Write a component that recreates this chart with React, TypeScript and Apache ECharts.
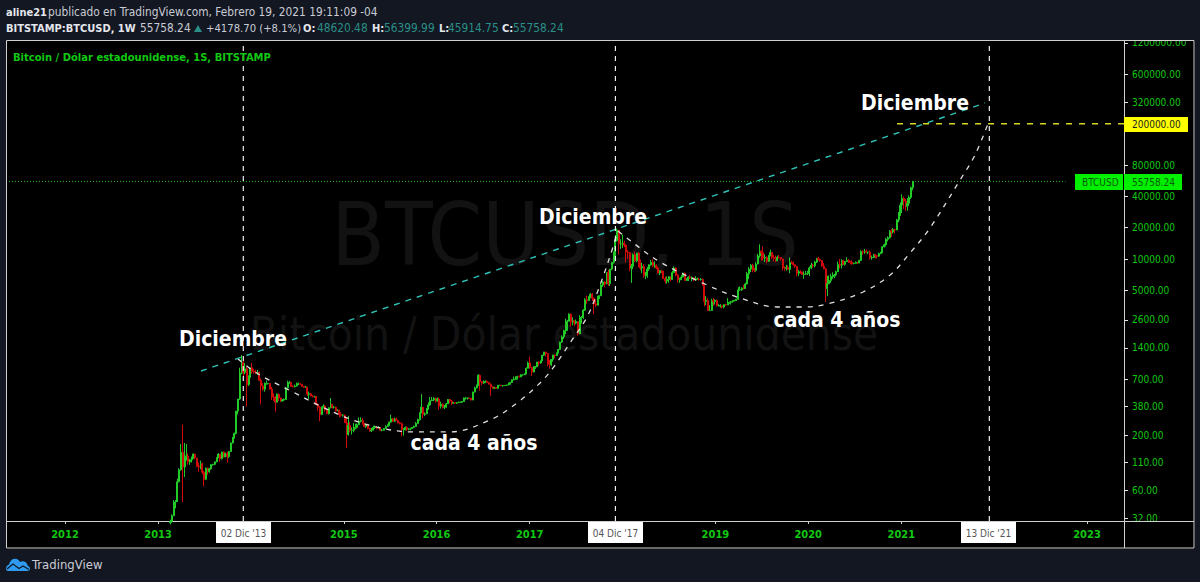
import React, { useEffect, useRef } from "react";
import * as echarts from "echarts";

const FIRST_WEEK = Date.UTC(2013, 1, 18);
const WEEK_MS = 7 * 864e5;

const close2013 = [30,34,46,47,72,94,138,100,127,127,112,117,122,133,122,101,100,107,89,76,97,90,96,105,106,112,122,133,120,139,125,135,126,141,170,190,210,345,450,800,1010,810,880,620,730,900];
const high2013 = [31,35,48,48,77,97,166,255,170,166,135,120,126,135,133,122,110,115,110,92,99,99,98,106,107,113,124,136,133,140,141,137,140,142,172,194,214,345,450,900,1190,1160,1000,920,760,900];
const low2013 = [28,29,34,40,46,71,92,46,80,115,105,105,110,120,118,100,90,95,85,65,75,84,88,94,103,104,111,122,112,118,123,124,110,122,140,168,188,205,320,440,780,700,780,380,600,720];

const close2014 = [830,815,800,810,680,600,560,630,635,635,560,470,450,420,500,460,430,440,445,575,650,650,595,590,600,630,630,625,595,585,585,500,505,480,475,475,400,375,320,375,385,355,325,370,400,375,375,345,350,320,315,315];
const high2014 = [1000,880,860,860,825,710,640,650,680,640,640,590,510,480,510,510,465,450,455,590,675,670,660,610,620,650,650,640,625,600,600,590,530,515,490,485,480,410,385,380,400,395,360,375,460,405,385,380,360,355,335,320];
const low2014 = [790,790,780,770,670,400,540,530,620,620,555,440,430,340,415,430,420,425,430,440,570,630,590,585,585,595,615,615,590,575,580,480,450,480,465,465,390,345,275,345,370,340,320,320,370,365,365,340,345,300,305,305];

const close2015 = [265,205,250,225,225,235,240,255,275,280,260,245,255,235,222,225,240,240,235,240,225,225,235,245,250,270,290,275,290,280,265,260,228,228,240,230,232,235,240,245,262,285,330,375,320,325,360,395,435,440,455,430];
const high2015 = [318,295,310,270,240,265,260,262,300,300,295,265,260,260,238,238,250,250,245,247,240,232,237,252,258,272,318,295,298,298,285,270,268,236,245,245,237,238,242,250,270,292,335,502,340,335,368,418,470,470,470,465];
const low2015 = [265,152,200,215,205,215,230,234,255,268,255,240,238,230,218,217,225,232,230,235,222,220,225,232,245,250,266,270,270,280,262,257,197,200,225,222,225,225,233,235,245,260,278,330,295,308,322,355,385,430,430,415];

const close2016 = [450,385,400,375,375,405,445,430,410,415,410,416,420,420,425,460,460,460,458,440,525,575,605,760,660,640,650,665,650,625,590,570,580,570,610,610,605,605,610,615,640,650,690,700,700,740,735,770,770,785,890,1000];
const high2016 = [465,465,425,410,395,412,448,450,440,420,418,420,425,425,430,465,470,465,460,460,530,590,620,780,775,670,680,680,680,660,635,600,590,585,615,615,612,610,612,618,645,655,695,740,745,755,760,780,780,795,905,1030];
const low2016 = [425,355,365,365,360,370,405,410,395,405,405,405,412,415,418,425,445,445,450,435,440,520,570,605,540,610,630,640,640,620,480,565,565,565,565,605,600,590,600,605,610,620,640,680,690,695,725,730,755,770,785,890];

const close2017 = [900,820,920,920,1020,1000,1050,1190,1270,1230,970,960,1080,1190,1180,1250,1350,1590,1780,2050,2050,2520,2950,2500,2550,2420,2500,1900,2750,2750,3220,4050,4000,4340,4600,4200,3700,3600,4400,4430,5630,6000,5750,7400,5800,8000,9300,11300,15000,19000,14000,14000];
const high2017 = [1150,920,935,930,1025,1030,1055,1190,1280,1290,1245,1070,1090,1200,1210,1260,1360,1600,1840,2090,2670,2600,3000,2980,2750,2560,2620,2420,2880,2830,3300,4200,4450,4400,4700,4700,4250,4100,4400,4460,5860,6170,6150,7450,7880,8000,9300,11800,17000,19660,17500,15500];
const low2017 = [880,750,810,880,910,940,980,1040,1170,1150,930,880,935,1030,1110,1170,1240,1330,1560,1700,1890,2050,2620,2240,2300,2280,2350,1830,1900,2400,2650,3170,3700,3950,4200,3950,2950,3450,3580,4120,4400,5400,5350,5750,5500,5500,7800,9000,10700,14700,11100,12500];

const close2018 = [14200,13600,11600,11500,8200,8500,11000,9600,11400,9300,8200,8500,6900,7000,8000,8800,9300,8600,8700,8200,7350,7700,7500,6500,6150,6350,6750,6350,7400,8200,7000,6300,6400,6700,7300,6200,6500,6700,6600,6600,6300,6400,6400,6350,6350,5600,3900,4000,3200,3200,4000,3900,4000];
const high2018 = [17200,15000,14000,12200,11700,8950,11300,11800,11400,11700,9900,9200,8950,7500,8400,8900,9800,9950,9500,8900,8500,7800,7800,7700,6800,6800,6850,6800,7700,8500,8250,7150,6600,7000,7400,7400,6550,6800,7050,6800,6700,6850,6600,6600,6550,6500,5650,4400,4200,3600,4150,4250,4100];
const low2018 = [12800,13000,9200,10000,7600,5900,8000,9300,9300,8300,7800,7300,6600,6400,6600,7700,8600,8350,8200,7950,7250,7000,7300,6400,5800,5800,5900,6100,6300,7300,6800,5900,5900,6250,6650,6200,6150,6150,6400,6100,6100,6200,6350,6200,6200,5500,3500,3600,3150,3150,3200,3560,3650];

const close2019 = [3550,3550,3550,3450,3640,3620,3740,3830,3900,3990,4000,4100,5050,5050,5260,5200,5750,7200,8000,8700,8000,7800,8950,10700,11900,11500,10200,10350,9500,10800,11550,10300,10150,9600,10400,10350,10000,8200,8150,8300,7950,9250,9200,8800,8500,7300,7550,7500,7100,7150,7250,7350];
const high2019 = [4080,3700,3680,3600,3680,3700,4200,3890,3950,4000,4050,4150,5350,5450,5350,5650,5900,7500,8350,8950,9000,8200,9350,11200,13850,12050,13200,11100,10650,10950,12300,11450,10950,10800,10800,10950,10300,10050,8500,8800,8700,10350,9650,9450,8900,8500,7850,7850,7400,7600,7700,7700];
const low2019 = [3500,3500,3400,3350,3350,3550,3600,3750,3650,3800,3900,3950,4050,4950,4950,5100,5150,5700,6400,7500,7450,7450,7550,8900,10300,9650,9700,9350,9100,9400,10600,10000,9500,9300,9600,10000,9650,7750,7700,7750,7800,7300,8950,8650,8200,6800,6850,7200,7050,6450,7050,7000];

const close2020 = [8200,8700,8600,9350,10170,9900,9670,8530,8040,5200,5800,6200,6780,6850,7030,7550,8850,8700,9680,8900,9450,9680,9330,9300,9010,9070,9300,9170,9700,11800,11670,11850,11650,11650,10250,10330,11080,10770,10650,11300,11500,13100,13750,15450,16050,18650,18200,19150,19000,23800,26500,33000];
const high2020 = [8450,9200,8980,9600,10200,10500,10150,9600,9150,8200,6900,6950,7200,7450,7200,7750,9450,10000,9950,9850,9580,10400,10000,9580,9750,9250,9470,9400,9850,12150,12100,12500,12400,11750,12100,10800,11200,11100,11000,11500,11750,13350,14100,15950,16500,19000,19500,19900,19500,24300,28300,35000];
const low2020 = [6850,8000,8250,8300,9150,9700,9400,8500,8000,3850,4400,5700,5900,6450,6550,6800,7650,8100,8100,8800,8650,9350,9150,8900,8800,8900,9050,9000,9100,9650,10950,11200,11400,11100,9900,9850,10200,10150,10150,10500,11100,11400,12900,13200,14800,15750,16300,17600,17600,19000,22600,26000];

const close2021 = [38200,36000,32100,34300,39200,48620.48,55758.24];
const high2021 = [42000,40000,37800,38500,41000,49700,56399.99];
const low2021 = [27700,30400,28900,29200,32300,37800,45914.75];

const closes = [...close2013, ...close2014, ...close2015, ...close2016, ...close2017, ...close2018, ...close2019, ...close2020, ...close2021];
const highs = [...high2013, ...high2014, ...high2015, ...high2016, ...high2017, ...high2018, ...high2019, ...high2020, ...high2021];
const lows = [...low2013, ...low2014, ...low2015, ...low2016, ...low2017, ...low2018, ...low2019, ...low2020, ...low2021];

const priceTicks = [1200000,600000,320000,180000,80000,40000,20000,10000,5000,2600,1400,700,380,200,110,60,32];
const yearTicks = [2012,2013,2014,2015,2016,2017,2018,2019,2020,2021,2022,2023];
const yearLabels = [2012,2013,2015,2016,2017,2019,2020,2021,2023];

// [decimal year, price]
const curveOne = [[2013.862,1093],[2014.045,819],[2014.239,656],[2014.454,526],[2014.745,386],[2015.068,289],[2015.358,242],[2015.714,217],[2016.144,217],[2016.575,283],[2016.865,412],[2017.113,642],[2017.253,895],[2017.436,1557],[2017.619,2768],[2017.759,5620],[2017.899,13040],[2017.942,18200]];
const curveTwo = [[2017.953,18600],[2018.006,17000],[2018.405,9360],[2018.911,5620],[2019.266,4217],[2019.664,3456],[2019.944,3456],[2020.202,3688],[2020.59,4817],[2020.881,7018],[2021.096,11420],[2021.311,19890],[2021.634,57500],[2021.795,100000],[2021.935,200000]];
const trendLine = [[2013.464,837],[2021.903,316500]];
const cycleTops = [Date.UTC(2013,11,2), Date.UTC(2017,11,4), Date.UTC(2021,11,13)];
const targetLine = [[2020.956,200000],[2023.399,200000]];
const lastPrice = 55758.24;

const Y_MIN = 30.2, Y_MAX = 1250000, X_MIN = 2011.365, X_MAX = 2023.399;
const yr = (y: number) => Date.UTC(2012,0,1) + (y-2012)*365.25*864e5;
const FONT = '"DejaVu Sans Condensed","DejaVu Sans",sans-serif';
const NAVY = "#131722", FRAME = "#d0d0d0", GREEN = "#12c812", TEAL = "#2a8f86", TXT = "#c9ccd4";

echarts.graphic.registerShape("tvlogo", echarts.graphic.extendPath("M0 11.5 Q0 8 3 7 Q5 0 11 1.5 Q13 2.5 14 4.5 Q17 3 20 5 Q21.5 6.5 21.5 8 Q24 9 24 11 Q24 13.5 21 13.5 L3 13.5 Q0 13.5 0 11.5 Z", {}));
echarts.graphic.registerShape("tvlogoline", echarts.graphic.extendPath("M1 11.5 L7 6.5 L13 11 L17 8.5 L23 12", {}));

const txt = (text: string, x: number, y: number, fill: string, size = 12, weight = "normal", align = "left", family = FONT) => ({
  type: "text", z: 120, x, y, silent: true,
  style: { text, fill, font: `${weight} ${size}px ${family}`, textAlign: align, textVerticalAlign: "middle" },
});
const rect = (x: number, y: number, w: number, h: number, fill: string, z = 110) => ({
  type: "rect", z, silent: true, shape: { x, y, width: w, height: h }, style: { fill },
});
const dashed = (data: number[][], color: string, width: number, type: any, smooth: any = false) => ({
  type: "line", data, symbol: "none", smooth, silent: true, z: 5,
  lineStyle: { color, width, type }, tooltip: { show: false },
});
const toXY = (pts: number[][]) => pts.map(([y, p]) => [yr(y), p]);

export default function App() {
  const ref = useRef<HTMLDivElement>(null);
  useEffect(() => {
    document.body.style.margin = "0";
    document.body.style.background = NAVY;
    const chart = echarts.init(ref.current!, null, { renderer: "svg" });
    const candles = closes.map((c, i) => [
      FIRST_WEEK + i * WEEK_MS,
      i === closes.length - 1 ? 48620.48 : i === 0 ? 29 : closes[i - 1],
      c, lows[i], highs[i],
    ]);
    chart.setOption({
      animation: false,
      backgroundColor: "#000000",
      grid: { left: 6, right: 76, top: 41, bottom: 61 },
      xAxis: {
        type: "value", min: yr(X_MIN), max: yr(X_MAX), splitLine: { show: false },
        axisLine: { lineStyle: { color: FRAME, width: 1 } },
        axisTick: { show: true, length: 3, lineStyle: { color: FRAME }, customValues: yearTicks.map((y) => Date.UTC(y,0,1)) },
        axisLabel: {
          customValues: yearLabels.map((y) => Date.UTC(y,0,1)),
          formatter: (v: number) => String(new Date(v).getUTCFullYear()),
          color: GREEN, fontFamily: FONT, fontWeight: "bold", fontSize: 11, margin: 8,
        },
      },
      yAxis: {
        type: "log", logBase: 2, min: Y_MIN, max: Y_MAX, position: "right", splitLine: { show: false },
        axisLine: { show: true, lineStyle: { color: FRAME, width: 1 } },
        axisTick: { show: true, length: 4, lineStyle: { color: "#e0e0e0" }, customValues: priceTicks },
        axisLabel: {
          customValues: priceTicks, color: GREEN, fontFamily: FONT, fontSize: 10, margin: 8,
          formatter: (v: number) => Number(v).toFixed(2),
        },
      },
      series: [
        {
          type: "candlestick", data: candles, barWidth: 1.5, z: 4, silent: true,
          itemStyle: { color: "#22cc28", color0: "#d00a0a", borderColor: "#22cc28", borderColor0: "#d00a0a", borderWidth: 1 },
        },
        dashed(toXY(curveOne), "#e0e0e0", 1.3, [5, 6], 0.35),
        dashed(toXY(curveTwo), "#e0e0e0", 1.3, [5, 6], 0.35),
        dashed(toXY(trendLine), "#2fc2b8", 1.4, [6, 6]),
        dashed(toXY(targetLine), "#d8d820", 1.3, [6, 7]),
        dashed([[yr(X_MIN), lastPrice], [yr(2022.77), lastPrice]], "#22c022", 1, [1, 2]),
        ...cycleTops.map((t) => dashed([[t, Y_MIN], [t, Y_MAX]], "#f0f0f0", 1.2, [5, 5])),
      ],
      graphic: [
        { type: "text", z: 1, silent: true, x: 565, y: 235, style: { text: "BTCUSD, 1S", fill: "#121212", font: `87px ${FONT}`, textAlign: "center", textVerticalAlign: "middle" } },
        { type: "text", z: 1, silent: true, x: 564, y: 334, style: { text: "Bitcoin / Dólar estadounidense", fill: "#121212", font: `45.5px ${FONT}`, textAlign: "center", textVerticalAlign: "middle" } },

        rect(0, 0, 1200, 40, NAVY),
        rect(0, 549, 1200, 33, NAVY),
        rect(0, 40, 6, 510, NAVY),
        rect(1195, 40, 5, 510, NAVY),
        rect(1125, 522, 69, 26, "#000000"),
        { type: "rect", z: 111, silent: true, shape: { x: 6.5, y: 40.5, width: 1187.5, height: 507.5 }, style: { fill: "none", stroke: FRAME, lineWidth: 1 } },
        { type: "line", z: 111, silent: true, shape: { x1: 1124.5, y1: 521, x2: 1124.5, y2: 548 }, style: { stroke: FRAME, lineWidth: 1 } },
        { type: "line", z: 111, silent: true, shape: { x1: 1125, y1: 521.5, x2: 1194, y2: 521.5 }, style: { stroke: FRAME, lineWidth: 1 } },

        txt("aline21", 6, 12, "#e4e6ec", 11, "bold"),
        txt("publicado en TradingView.com, Febrero 19, 2021 19:11:09 -04", 48, 12, TXT, 11.8),
        txt("BITSTAMP:BTCUSD, 1W", 6, 28, "#e4e6ec", 11, "bold"),
        txt("55758.24", 140, 28, TXT, 11.8),
        { type: "polygon", z: 120, silent: true, shape: { points: [[194, 32], [202, 32], [198, 25]] }, style: { fill: TEAL } },
        txt("+4178.70 (+8.1%)", 206, 28, TXT, 11.2),
        txt("O:", 303, 28, "#e4e6ec", 11, "bold"), txt("48620.48", 317, 28, TEAL, 11.8),
        txt("H:", 372, 28, "#e4e6ec", 11, "bold"), txt("56399.99", 384, 28, TEAL, 11.8),
        txt("L:", 439, 28, "#e4e6ec", 11, "bold"), txt("45914.75", 448, 28, TEAL, 11.8),
        txt("C:", 502, 28, "#e4e6ec", 11, "bold"), txt("55758.24", 513, 28, TEAL, 11.8),
        txt("Bitcoin / Dólar estadounidense, 1S, BITSTAMP", 13, 57, GREEN, 11.1, "bold"),

        txt("Diciembre", 233, 339, "#ffffff", 21, "bold", "center"),
        txt("Diciembre", 593, 217, "#ffffff", 21, "bold", "center"),
        txt("Diciembre", 915, 103, "#ffffff", 21, "bold", "center"),
        txt("cada 4 años", 474, 443, "#ffffff", 21, "bold", "center"),
        txt("cada 4 años", 837, 320, "#ffffff", 21, "bold", "center"),

        rect(216, 522, 55, 21, "#ffffff"), txt("02 Dic '13", 243.5, 533, "#555555", 10, "normal", "center"),
        rect(588, 522, 55, 21, "#ffffff"), txt("04 Dic '17", 615.5, 533, "#555555", 10, "normal", "center"),
        rect(961, 522, 55, 21, "#ffffff"), txt("13 Dic '21", 988.5, 533, "#555555", 10, "normal", "center"),

        rect(1124, 117, 64, 15, "#ffff00"), txt("200000.00", 1132, 124.5, "#222222", 10),
        rect(1124, 174, 58, 16, "#00f000"), txt("55758.24", 1132, 182, "#0a5c0a", 10),
        rect(1075, 174, 48, 16, "#00f000"), txt("BTCUSD", 1082, 182, "#0a5c0a", 10),

        { type: "tvlogo", z: 120, silent: true, x: 6, y: 557.5, style: { fill: "#2e9bf0" } },
        { type: "tvlogoline", z: 121, silent: true, x: 6, y: 557.5, style: { fill: "none", stroke: NAVY, lineWidth: 1.2 } },
        txt("TradingView", 32, 564, "#c9ccd4", 13),
      ],
    });
    return () => chart.dispose();
  }, []);
  return <div ref={ref} style={{ position: "absolute", left: 0, top: 0, width: 1200, height: 582 }} />;
}
